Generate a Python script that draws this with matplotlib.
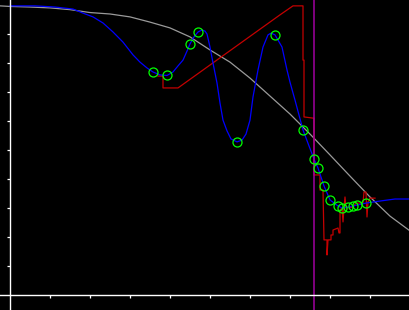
import matplotlib
matplotlib.use('Agg')
import matplotlib.pyplot as plt

# 데이터 준비
gray_x = [-0.25, 0, 0.5, 1, 1.5, 2, 2.5, 3, 3.5, 4, 4.5, 5, 5.5, 6, 6.5, 7,
          7.5, 8, 8.5, 9, 9.5, 10]
gray_y = [9.97, 9.95, 9.93, 9.90, 9.84, 9.74, 9.69, 9.59, 9.41, 9.21, 8.90,
          8.45, 8.03, 7.48, 6.86, 6.24, 5.55, 4.83, 4.10, 3.38, 2.72, 2.21]

blue_x = [0, 0.625, 1.125, 1.575, 1.825, 2.075, 2.325, 2.575, 2.825, 3.075,
          3.25, 3.425, 3.575, 3.75, 3.925, 4.075, 4.2, 4.325, 4.425, 4.5,
          4.6, 4.7, 4.8, 4.875, 4.925, 5.0, 5.075, 5.175, 5.25, 5.325,
          5.425, 5.525, 5.675, 5.8, 5.9, 6.0, 6.075, 6.2, 6.325, 6.45,
          6.525, 6.625, 6.8, 6.925, 7.0, 7.125, 7.325, 7.475, 7.6, 7.7,
          7.85, 8.0, 8.2, 8.3, 8.45, 8.575, 8.675, 8.9, 9.25, 9.625, 10.0]
blue_y = [9.97, 9.97, 9.93, 9.86, 9.72, 9.59, 9.38, 9.07, 8.72, 8.28,
          8.03, 7.83, 7.69, 7.59, 7.57, 7.69, 7.90, 8.10, 8.41, 8.66,
          8.90, 9.07, 9.14, 9.10, 9.00, 8.55, 8.00, 7.31, 6.62, 6.03,
          5.66, 5.38, 5.28, 5.34, 5.55, 6.03, 6.83, 7.76, 8.55, 8.97,
          9.03, 8.97, 8.55, 7.76, 7.34, 6.72, 5.69, 5.14, 4.69, 4.38,
          3.76, 3.28, 3.07, 3.00, 3.03, 3.07, 3.10, 3.17, 3.24, 3.31, 3.31]

# 표시된 점 (원)
mark_x = [3.575, 3.925, 4.5, 4.7, 5.675, 6.625, 7.325, 7.6, 7.7, 7.85, 8.0,
          8.2, 8.3, 8.45, 8.575, 8.675, 8.9]
mark_y = [7.69, 7.59, 8.66, 9.07, 5.28, 8.97, 5.69, 4.69, 4.38, 3.76, 3.28,
          3.07, 3.00, 3.03, 3.07, 3.10, 3.17]

red_x = [3.7, 3.825, 3.825, 4.2, 6.75, 7.075, 7.325, 7.325, 7.35, 7.35,
         7.575, 7.6, 7.6, 7.75, 7.75, 7.825, 7.85, 7.925, 7.925, 7.95,
         8.025, 8.025, 8.075, 8.075, 8.2, 8.225, 8.25, 8.25, 8.3, 8.325,
         8.35, 8.375, 8.4, 8.575, 8.65, 8.825, 8.85, 8.9, 8.925, 8.95,
         9.0, 9.125]
red_y = [7.55, 7.55, 7.14, 7.14, 9.66, 9.97, 9.97, 8.10, 8.10, 6.14,
         6.10, 6.10, 4.14, 4.14, 3.62, 3.62, 1.90, 1.90, 1.38, 1.90,
         1.90, 2.07, 2.07, 2.24, 2.31, 2.14, 2.14, 2.93, 3.00, 2.52,
         3.00, 3.38, 3.00, 3.03, 3.17, 3.17, 3.55, 3.55, 2.69, 3.21,
         3.34, 3.34]

vline_x = 7.6

x_ticks = [1, 2, 3, 4, 5, 6, 7, 8, 9]
y_ticks = [1, 2, 3, 4, 5, 6, 7, 8, 9]

# 그래프 생성
fig = plt.figure(figsize=(4.1, 3.1), dpi=100, facecolor='black')
ax = fig.add_axes([0, 0, 1, 1], facecolor='black')

ax.plot(gray_x, gray_y, color='#9a9a9a', lw=0.9)
ax.plot(red_x, red_y, color='#c40000', lw=0.9)
ax.plot(blue_x, blue_y, color='#0000ff', lw=0.9)
ax.axvline(vline_x, ymin=0, ymax=1, color='#a000a0', lw=1.1)
ax.plot(mark_x, mark_y, 'o', ms=6.5, mfc='none', mec='#00ff00', mew=0.9)

ax.set_xlim(-0.25, 10)
ax.set_ylim(-15 / 29, 295 / 29)

# 축 스타일
for side in ['top', 'right']:
    ax.spines[side].set_visible(False)
for side in ['left', 'bottom']:
    ax.spines[side].set_position(('data', 0))
    ax.spines[side].set_color('white')
    ax.spines[side].set_linewidth(1.0)

ax.set_xticks(x_ticks)
ax.set_yticks(y_ticks)
ax.set_xticklabels([])
ax.set_yticklabels([])
ax.tick_params(direction='out', length=2.5, width=0.9, colors='white')

plt.savefig('out.png', dpi=100, facecolor='black')
